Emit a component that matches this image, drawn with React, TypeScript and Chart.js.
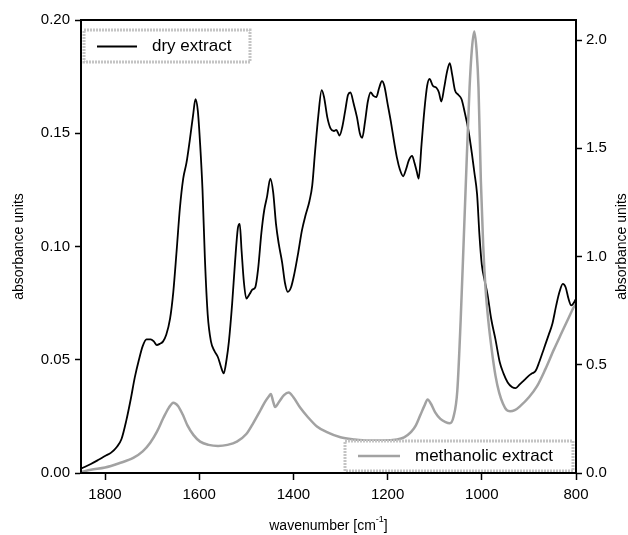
import React, { useEffect, useRef } from "react";
import { Chart, registerables } from "chart.js";

Chart.register(...registerables);

// ---- data ----
const dryWavenumbers = [
  1850, 1830, 1815, 1800, 1787, 1775, 1765, 1755, 1745, 1737, 1728, 1720, 1712, 1703, 1696, 1690, 1684, 1677, 1670,
  1662, 1655, 1648, 1641, 1634, 1627, 1620, 1613, 1608, 1603, 1598, 1593, 1588, 1582, 1575, 1568, 1560, 1554, 1548,
  1542, 1537, 1530, 1524, 1518, 1514, 1510, 1505, 1500, 1493, 1487, 1481, 1475, 1468, 1462, 1456, 1449, 1443, 1437,
  1431, 1424, 1418, 1412, 1405, 1398, 1390, 1382, 1374, 1366, 1360, 1354, 1347, 1340, 1335, 1328, 1321, 1314, 1309,
  1302, 1296, 1290, 1284, 1279, 1272, 1265, 1259, 1254, 1248, 1242, 1236, 1230, 1224, 1218, 1212, 1207, 1200, 1193,
  1186, 1180, 1174, 1167, 1161, 1155, 1148, 1143, 1138, 1134, 1128, 1122, 1116, 1111, 1104, 1096, 1091, 1086, 1080,
  1074, 1068, 1063, 1057, 1050, 1043, 1036, 1029, 1021, 1016, 1010, 1005, 1000, 994, 988, 980, 971, 962, 954, 945,
  936, 928, 920, 910, 900, 893, 886, 878, 868, 858, 850, 842, 835, 828, 822, 816, 810, 805, 800,
];
const dryValues = [
  0.002, 0.004, 0.0057, 0.0075, 0.009, 0.0115, 0.015, 0.023, 0.033, 0.042, 0.05, 0.056, 0.059, 0.059, 0.058, 0.0565,
  0.057, 0.058, 0.061, 0.068, 0.08, 0.098, 0.117, 0.13, 0.137, 0.147, 0.158, 0.165, 0.16, 0.145, 0.125, 0.095, 0.07,
  0.058, 0.054, 0.051, 0.047, 0.044, 0.05, 0.058, 0.075, 0.093, 0.108, 0.11, 0.098, 0.084, 0.077, 0.079, 0.081, 0.082,
  0.09, 0.106, 0.116, 0.122, 0.13, 0.124, 0.11, 0.101, 0.093, 0.084, 0.08, 0.082, 0.088, 0.097, 0.107, 0.114, 0.12,
  0.127, 0.142, 0.158, 0.169, 0.166, 0.157, 0.152, 0.151, 0.1515, 0.149, 0.153, 0.16, 0.167, 0.168, 0.163, 0.157, 0.15,
  0.148, 0.155, 0.164, 0.168, 0.1665, 0.166, 0.17, 0.173, 0.171, 0.163, 0.155, 0.146, 0.139, 0.134, 0.131, 0.134,
  0.138, 0.14, 0.137, 0.133, 0.13, 0.145, 0.16, 0.171, 0.174, 0.171, 0.17, 0.168, 0.164, 0.17, 0.177, 0.181, 0.176,
  0.169, 0.167, 0.165, 0.159, 0.152, 0.141, 0.133, 0.123, 0.105, 0.092, 0.085, 0.079, 0.068, 0.059, 0.049, 0.044, 0.04,
  0.038, 0.0375, 0.039, 0.041, 0.043, 0.044, 0.045, 0.049, 0.055, 0.061, 0.066, 0.074, 0.08, 0.0835, 0.082, 0.077,
  0.074, 0.075, 0.077,
];

const methWavenumbers = [
  1850, 1830, 1800, 1770, 1740, 1720, 1704, 1690, 1676, 1665, 1655, 1645, 1635, 1625, 1612, 1598, 1580, 1560, 1540,
  1520, 1500, 1485, 1470, 1460, 1452, 1448, 1443, 1439, 1430, 1420, 1410, 1400, 1385, 1370, 1350, 1330, 1300, 1270,
  1240, 1210, 1180, 1165, 1150, 1140, 1130, 1122, 1115, 1108, 1099, 1088, 1077, 1068, 1060, 1052, 1045, 1038, 1032,
  1026, 1021, 1016, 1011, 1007, 1002, 997, 992, 986, 979, 971, 963, 955, 947, 940, 930, 918, 900, 883, 865, 847, 830,
  815, 805, 800,
];
const methValues = [
  0.005, 0.015, 0.025, 0.045, 0.07, 0.1, 0.14, 0.19, 0.255, 0.3, 0.325, 0.31, 0.27, 0.22, 0.175, 0.145, 0.13, 0.125,
  0.13, 0.145, 0.18, 0.232, 0.29, 0.33, 0.355, 0.365, 0.33, 0.305, 0.33, 0.36, 0.372, 0.35, 0.3, 0.26, 0.215, 0.19,
  0.165, 0.155, 0.15, 0.15, 0.155, 0.165, 0.19, 0.22, 0.27, 0.31, 0.34, 0.32, 0.28, 0.25, 0.235, 0.23, 0.26, 0.38,
  0.7, 1.1, 1.45, 1.78, 1.96, 2.04, 1.95, 1.78, 1.35, 1.05, 0.85, 0.7, 0.57, 0.45, 0.37, 0.32, 0.29, 0.285, 0.29, 0.31,
  0.35, 0.4, 0.48, 0.57, 0.65, 0.72, 0.765, 0.78,
];

const xTicks = [1800, 1600, 1400, 1200, 1000, 800];
const leftTicks = [0, 0.05, 0.1, 0.15, 0.2];
const rightTicks = [0, 0.5, 1.0, 1.5, 2.0];

const xRange = [800, 1851];
const leftRange = [0, 0.2];
const rightRange = [0, 2.093];

const seriesLabels = ["dry extract", "methanolic extract"];
const axisTitleY = "absorbance units";
const axisTitleX = "wavenumber [cm";
const axisTitleXSup = "-1";
const axisTitleXEnd = "]";

const FONT = '"Liberation Sans", Arial, Helvetica, sans-serif';
const DRY_COLOR = "#000000";
const METH_COLOR = "#a2a2a2";

const decorPlugin = {
  id: "decor",
  afterDatasetsDraw(chart: any) {
    const { ctx, chartArea: a } = chart;
    ctx.save();

    const drawLegend = (
      bx: number, by: number, bw: number, bh: number,
      lx1: number, lx2: number, ly: number, color: string, lw: number, text: string
    ) => {
      ctx.fillStyle = "#ffffff";
      ctx.fillRect(bx, by, bw, bh);
      ctx.setLineDash([2, 1]);
      ctx.strokeStyle = "#c4c4c4";
      ctx.lineWidth = 3;
      ctx.strokeRect(bx, by, bw, bh);
      ctx.setLineDash([]);
      ctx.strokeStyle = color;
      ctx.lineWidth = lw;
      ctx.beginPath();
      ctx.moveTo(lx1, ly);
      ctx.lineTo(lx2, ly);
      ctx.stroke();
      ctx.fillStyle = "#000";
      ctx.font = `17px ${FONT}`;
      ctx.textAlign = "left";
      ctx.textBaseline = "middle";
      ctx.fillText(text, lx2 + 15, ly);
    };

    // legends
    drawLegend(a.left + 3, a.top + 10, 166, 32, a.left + 16, a.left + 56, a.top + 26.5, DRY_COLOR, 2, seriesLabels[0]);
    drawLegend(a.right - 231, a.bottom - 32, 228, 30, a.right - 218, a.right - 176, a.bottom - 17, METH_COLOR, 2.5, seriesLabels[1]);

    // frame
    ctx.strokeStyle = "#000";
    ctx.lineWidth = 2;
    ctx.strokeRect(a.left, a.top, a.right - a.left, a.bottom - a.top);

    // axis titles
    const cy = (a.top + a.bottom) / 2;
    ctx.fillStyle = "#000";
    ctx.font = `14px ${FONT}`;
    ctx.textAlign = "center";
    ctx.textBaseline = "middle";
    ctx.save();
    ctx.translate(19, cy);
    ctx.rotate(-Math.PI / 2);
    ctx.fillText(axisTitleY, 0, 0);
    ctx.restore();
    ctx.save();
    ctx.translate(chart.width - 6, cy);
    ctx.rotate(-Math.PI / 2);
    ctx.fillText(axisTitleY, 0, 0);
    ctx.restore();

    // x title with superscript
    const cx = (a.left + a.right) / 2;
    const ty = chart.height - 9;
    ctx.font = `14px ${FONT}`;
    const w1 = ctx.measureText(axisTitleX).width;
    const w3 = ctx.measureText(axisTitleXEnd).width;
    ctx.font = `9px ${FONT}`;
    const w2 = ctx.measureText(axisTitleXSup).width;
    let x0 = cx - (w1 + w2 + w3) / 2;
    ctx.textAlign = "left";
    ctx.font = `14px ${FONT}`;
    ctx.fillText(axisTitleX, x0, ty);
    ctx.font = `9px ${FONT}`;
    ctx.fillText(axisTitleXSup, x0 + w1, ty - 6);
    ctx.font = `14px ${FONT}`;
    ctx.fillText(axisTitleXEnd, x0 + w1 + w2, ty);
    ctx.restore();
  },
};

export default function App() {
  const ref = useRef<HTMLCanvasElement | null>(null);

  useEffect(() => {
    if (!ref.current) return;
    const tickFont = { family: FONT, size: 15 };
    const chart = new Chart(ref.current, {
      type: "line",
      data: {
        datasets: [
          {
            label: seriesLabels[1],
            data: methWavenumbers.map((x, i) => ({ x, y: methValues[i] })),
            yAxisID: "y2",
            borderColor: METH_COLOR,
            borderWidth: 2.5,
            pointRadius: 0,
            cubicInterpolationMode: "monotone",
            fill: false,
          },
          {
            label: seriesLabels[0],
            data: dryWavenumbers.map((x, i) => ({ x, y: dryValues[i] })),
            yAxisID: "y",
            borderColor: DRY_COLOR,
            borderWidth: 1.8,
            pointRadius: 0,
            cubicInterpolationMode: "monotone",
            fill: false,
          },
        ],
      },
      options: {
        responsive: false,
        animation: false,
        layout: { padding: { top: 20, left: 0, right: 0, bottom: 0 } },
        plugins: { legend: { display: false }, tooltip: { enabled: false } },
        scales: {
          x: {
            type: "linear",
            position: "bottom",
            min: xRange[0],
            max: xRange[1],
            reverse: true,
            afterBuildTicks: (s: any) => {
              s.ticks = xTicks.map((v) => ({ value: v }));
            },
            afterFit: (s: any) => {
              s.height = 62;
            },
            grid: { drawOnChartArea: false, drawTicks: true, tickLength: 7, tickColor: "#000", tickWidth: 1.5 },
            border: { display: true, color: "#000", width: 2 },
            ticks: {
              font: tickFont,
              color: "#000",
              padding: 6,
              maxRotation: 0,
              autoSkip: false,
              callback: (v: any) => String(v),
            },
          },
          y: {
            type: "linear",
            position: "left",
            min: leftRange[0],
            max: leftRange[1],
            afterBuildTicks: (s: any) => {
              s.ticks = leftTicks.map((v) => ({ value: v }));
            },
            afterFit: (s: any) => {
              s.width = 81;
            },
            grid: { drawOnChartArea: false, drawTicks: true, tickLength: 6, tickColor: "#000", tickWidth: 1.5 },
            border: { display: true, color: "#000", width: 2 },
            ticks: {
              font: tickFont,
              color: "#000",
              padding: 5,
              autoSkip: false,
              callback: (v: any) => Number(v).toFixed(2),
            },
          },
          y2: {
            type: "linear",
            position: "right",
            min: rightRange[0],
            max: rightRange[1],
            afterBuildTicks: (s: any) => {
              s.ticks = rightTicks.map((v) => ({ value: v }));
            },
            afterFit: (s: any) => {
              s.width = 52;
            },
            grid: { drawOnChartArea: false, drawTicks: true, tickLength: 6, tickColor: "#000", tickWidth: 1.5 },
            border: { display: true, color: "#000", width: 2 },
            ticks: {
              font: tickFont,
              color: "#000",
              padding: 4,
              autoSkip: false,
              callback: (v: any) => Number(v).toFixed(1),
            },
          },
        },
      },
      plugins: [decorPlugin],
    });
    return () => chart.destroy();
  }, []);

  return (
    <canvas
      ref={ref}
      width={628}
      height={535}
      style={{ position: "absolute", left: 0, top: 0, width: 628, height: 535, display: "block" }}
    />
  );
}
